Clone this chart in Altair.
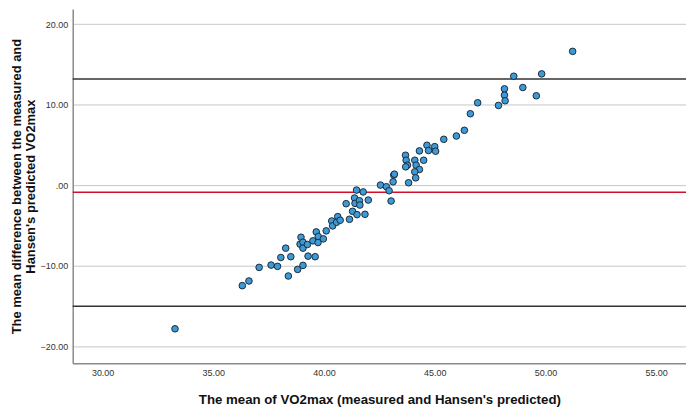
import altair as alt
import pandas as pd

mean_vo2 = [33.27, 36.31, 36.61, 37.07, 37.61, 37.90, 38.05, 38.27, 38.39, 38.50,
            38.81, 38.96, 38.92, 39.05, 39.05, 39.05, 39.25, 39.28, 39.50, 39.60,
            39.65, 39.74, 39.73, 39.97, 40.10, 40.35, 40.39, 40.62, 40.57, 40.73,
            41.00, 41.15, 41.29, 41.38, 41.40, 41.47, 41.49, 41.60, 41.62, 41.77,
            41.85, 42.00, 42.55, 42.82, 42.94, 43.03, 43.15, 43.18, 43.12, 43.68,
            43.71, 43.77, 43.69, 43.82, 44.10, 44.16, 44.31, 44.10, 44.14, 44.50,
            44.31, 44.65, 44.72, 45.00, 45.04, 45.41, 45.98, 46.34, 46.61, 46.94,
            47.88, 48.15, 48.15, 48.18, 48.57, 48.98, 49.59, 49.83, 51.23]
diff_vo2 = [-17.86, -12.50, -11.92, -10.23, -9.94, -10.10, -9.00, -7.84, -11.30, -8.90,
            -10.48, -6.48, -7.34, -7.10, -9.98, -7.84, -7.38, -8.83, -6.93, -8.90,
            -5.82, -6.39, -7.14, -6.68, -5.69, -4.46, -5.07, -3.92, -4.62, -4.37,
            -2.31, -4.25, -3.26, -1.60, -2.27, -0.62, -3.67, -1.94, -2.48, -0.85,
            -3.63, -1.86, 0.00, -0.20, -0.70, -1.98, 1.24, 1.36, 0.41, 3.71,
            3.09, 2.48, 2.27, 0.29, 3.09, 2.48, 1.94, 1.65, 0.90, 3.09,
            4.25, 4.95, 4.30, 4.78, 4.21, 5.69, 6.10, 6.81, 8.87, 10.23,
            9.90, 11.96, 11.18, 10.48, 13.53, 12.13, 11.10, 13.82, 16.62]

ref_values = [13.2, -0.9, -15.05]
ref_kind = ["upper", "mean", "lower"]

x_ticks = [30, 35, 40, 45, 50, 55]
y_ticks = [-20, -10, 0, 10, 20]

pts = pd.DataFrame({"m": mean_vo2, "d": diff_vo2})
refs = pd.DataFrame({"v": ref_values, "k": ref_kind})

xscale = alt.Scale(domain=[28.65, 56.35], nice=False, zero=False)
yscale = alt.Scale(domain=[-22.15, 21.9], nice=False, zero=False)

label_expr = "datum.value == 0 ? '.00' : format(datum.value, '.2f')"

base = alt.Chart(pts)

points = base.mark_point(
    filled=True, size=44, fill="#3d9ad6", stroke="#1d2b38", strokeWidth=1, opacity=1
).encode(
    x=alt.X("m:Q", scale=xscale,
            axis=alt.Axis(values=x_ticks, labelExpr=label_expr, grid=False, ticks=False,
                          domainColor="#8a8a8a", domainWidth=1.5,
                          labelFont="Liberation Sans", labelFontSize=9, labelColor="#333333",
                          labelPadding=5,
                          title="The mean of VO2max (measured and Hansen's predicted)",
                          titleFont="Liberation Sans", titleFontSize=13.3, titleFontWeight="bold",
                          titleColor="#111111", titlePadding=15)),
    y=alt.Y("d:Q", scale=yscale,
            axis=alt.Axis(values=y_ticks, labelExpr=label_expr, grid=True, ticks=False,
                          gridColor="#c8c8c8", gridWidth=1,
                          domainColor="#8a8a8a", domainWidth=1.5,
                          labelFont="Liberation Sans", labelFontSize=9, labelColor="#333333",
                          labelPadding=5,
                          title=["The mean difference between the measured and",
                                 "Hansen's predicted VO2max"],
                          titleFont="Liberation Sans", titleFontSize=13, titleFontWeight="bold",
                          titleColor="#111111", titlePadding=3, titleLineHeight=13.5)),
)

lines = alt.Chart(refs).mark_rule(strokeWidth=1.5).encode(
    y=alt.Y("v:Q", scale=yscale),
    color=alt.Color("k:N", scale=alt.Scale(domain=["upper", "mean", "lower"],
                                           range=["#333333", "#d0102a", "#333333"]),
                    legend=None),
)

chart = alt.layer(lines, points).properties(
    width=616, height=356,
    autosize=alt.AutoSizeParams(type="none"),
    padding={"left": 65, "top": 0, "right": 0, "bottom": 46},
).configure_view(stroke=None)

chart.save("out.html", embed_options={"renderer": "svg", "actions": False})
